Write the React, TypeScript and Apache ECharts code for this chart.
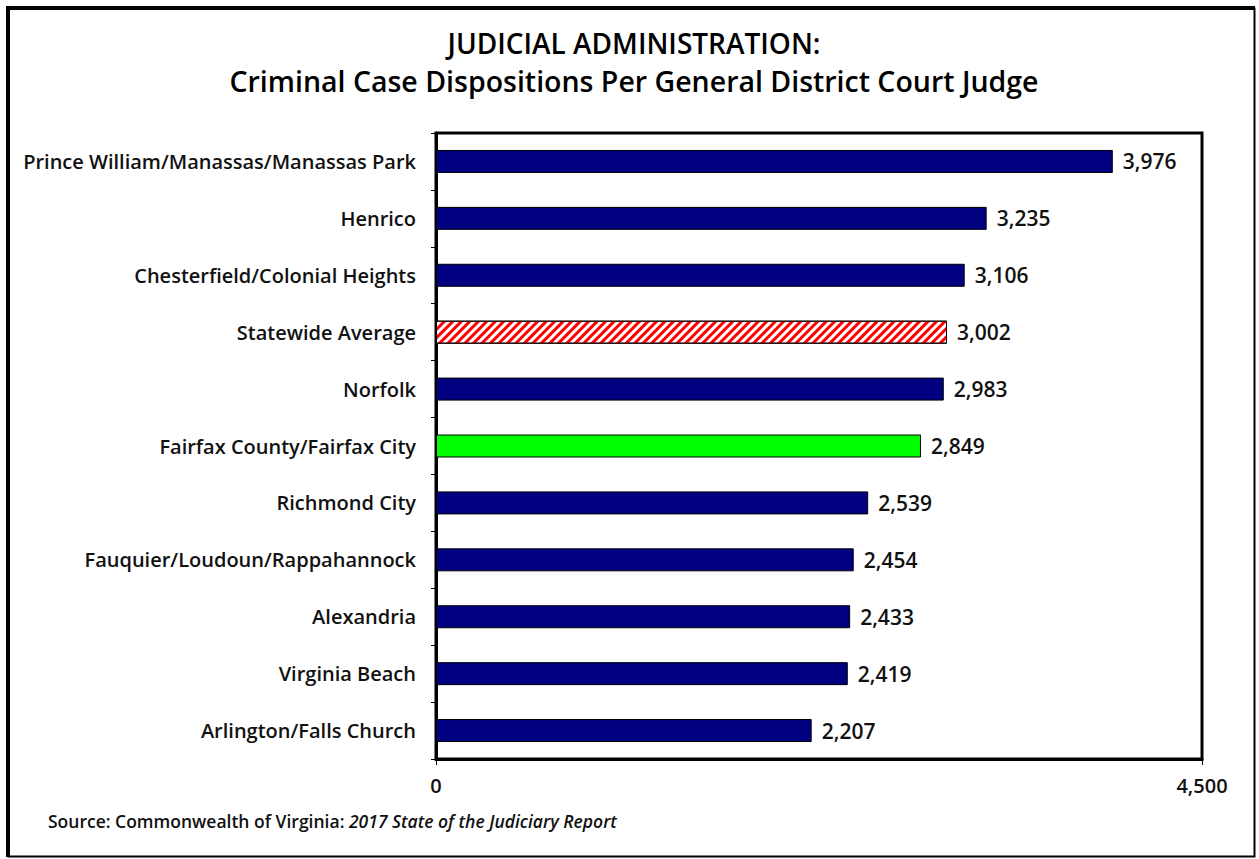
import React, { useEffect, useRef } from "react";
import * as echarts from "echarts";

const categories = [
  "Prince William/Manassas/Manassas Park",
  "Henrico",
  "Chesterfield/Colonial Heights",
  "Statewide Average",
  "Norfolk",
  "Fairfax County/Fairfax City",
  "Richmond City",
  "Fauquier/Loudoun/Rappahannock",
  "Alexandria",
  "Virginia Beach",
  "Arlington/Falls Church",
];
const values = [3976, 3235, 3106, 3002, 2983, 2849, 2539, 2454, 2433, 2419, 2207];
const barKinds = ["navy", "navy", "navy", "hatch", "navy", "green", "navy", "navy", "navy", "navy", "navy"];
const xTicks = [0, 4500];
const titleLines = ["JUDICIAL ADMINISTRATION:", "Criminal Case Dispositions Per General District Court Judge"];
const sourcePrefix = "Source: Commonwealth of Virginia: ";
const sourceItalic = "2017 State of the Judiciary Report";

const FONT = "'Open Sans', 'Liberation Sans', Arial, sans-serif";

const fmt = (v: number) => v.toLocaleString("en-US");

export default function App() {
  const ref = useRef<HTMLDivElement>(null);
  useEffect(() => {
    if (!ref.current) return;
    const chart = echarts.init(ref.current, null, { renderer: "svg" });
    const data = values.map((v, i) => {
      const k = barKinds[i];
      let itemStyle: any = { color: "#000080", borderColor: "#000", borderWidth: 1 };
      if (k === "green") itemStyle = { color: "#00FF00", borderColor: "#000", borderWidth: 1 };
      if (k === "hatch")
        itemStyle = {
          color: "#ffffff",
          borderColor: "#000",
          borderWidth: 1,
          decal: {
            symbol: "rect",
            symbolSize: 1,
            dashArrayX: [1, 0],
            dashArrayY: [3, 3],
            rotation: -Math.PI / 4,
            color: "#ff0000",
          },
        };
      return { value: v, itemStyle };
    });
    chart.setOption({
      animation: false,
      grid: {
        left: 436,
        top: 133,
        right: 57,
        bottom: 100,
        show: true,
        borderColor: "#000",
        borderWidth: 3,
        backgroundColor: "transparent",
      },
      xAxis: {
        type: "value",
        min: xTicks[0],
        max: xTicks[xTicks.length - 1],
        interval: xTicks[1] - xTicks[0],
        splitLine: { show: false },
        axisLine: { show: true, lineStyle: { color: "#000", width: 3 } },
        axisTick: { show: true, length: 6, lineStyle: { color: "#000", width: 1 } },
        axisLabel: {
          margin: 16,
          fontFamily: FONT,
          fontSize: 20,
          fontWeight: 600,
          color: "#111",
          formatter: (v: number) => fmt(v),
        },
      },
      yAxis: {
        type: "category",
        inverse: true,
        data: categories,
        axisLine: { show: true, lineStyle: { color: "#000", width: 3 } },
        axisTick: { show: true, length: 5, lineStyle: { color: "#000", width: 1 } },
        axisLabel: {
          margin: 20,
          fontFamily: FONT,
          fontSize: 20,
          fontWeight: 600,
          color: "#111",
        },
      },
      series: [
        {
          type: "bar",
          data,
          barWidth: 23,
          label: {
            show: true,
            position: "right",
            distance: 10,
            fontFamily: FONT,
            fontSize: 21,
            fontWeight: 600,
            color: "#111",
            formatter: (p: any) => fmt(p.value),
          },
        },
      ],
      graphic: [
        {
          type: "rect",
          shape: { x: 8.5, y: 8.5, width: 1246, height: 848 },
          style: { fill: "none", stroke: "#000", lineWidth: 2 },
          silent: true,
        },
        {
          type: "polyline",
          shape: { points: [[8, 857], [8, 8], [1255, 8]] },
          style: { fill: "none", stroke: "#000", lineWidth: 4 },
          silent: true,
        },
        {
          type: "text",
          x: 634,
          y: 43,
          style: {
            text: titleLines[0],
            fontFamily: FONT,
            fontSize: 28,
            fontWeight: 600,
            lineHeight: 30,
            fill: "#000",
            textAlign: "center",
            textVerticalAlign: "middle",
          },
        },
        {
          type: "text",
          x: 634,
          y: 81,
          style: {
            text: titleLines[1],
            fontFamily: FONT,
            fontSize: 28.5,
            fontWeight: 600,
            lineHeight: 30,
            fill: "#000",
            textAlign: "center",
            textVerticalAlign: "middle",
          },
        },
        {
          type: "text",
          x: 48,
          y: 821,
          style: {
            text: "{a|" + sourcePrefix + "}{b|" + sourceItalic + "}",
            textVerticalAlign: "middle",
            rich: {
              a: { fontFamily: FONT, fontSize: 17.5, fontWeight: 600, fill: "#111" },
              b: { fontFamily: FONT, fontSize: 17.5, fontWeight: 600, fontStyle: "italic", fill: "#111" },
            },
          },
        },
      ],
    });
    return () => chart.dispose();
  }, []);
  return (
    <div
      ref={ref}
      style={{ position: "absolute", left: 0, top: 0, width: 1259, height: 859, background: "#fff" }}
    />
  );
}
